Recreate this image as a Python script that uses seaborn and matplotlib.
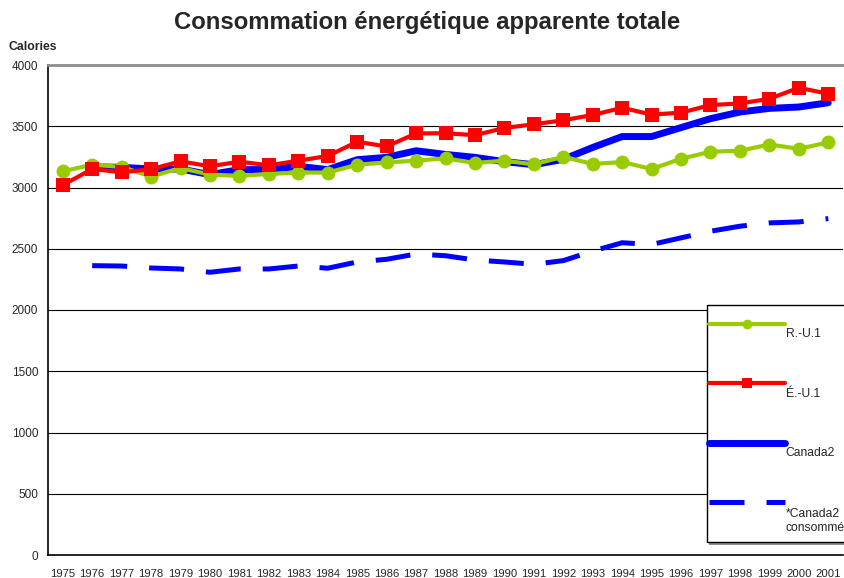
import numpy as np
import pandas as pd
import matplotlib
matplotlib.use("Agg")
import matplotlib.pyplot as plt
from matplotlib.patches import Rectangle
from matplotlib.legend_handler import HandlerLine2D
from matplotlib.ticker import FixedLocator, NullFormatter
import seaborn as sns

# ------------------- Data -------------------
years = list(range(1975, 2002))

ru = [3132, 3186, 3168, 3089, 3159, 3105, 3095, 3111, 3122, 3122, 3186, 3205, 3219, 3238,
      3200, 3219, 3189, 3251, 3192, 3208, 3151, 3235, 3292, 3300, 3351, 3316, 3368]
eu = [3019, 3151, 3124, 3149, 3214, 3173, 3211, 3181, 3219, 3257, 3373, 3335, 3441, 3443,
      3427, 3486, 3516, 3549, 3592, 3651, 3595, 3611, 3673, 3686, 3724, 3814, 3765]
# Canada series start in 1976
canada = [np.nan, 3168, 3165, 3151, 3151, 3105, 3146, 3146, 3173, 3146, 3227, 3246, 3300, 3270,
          3246, 3211, 3186, 3230, 3327, 3416, 3416, 3489, 3562, 3616, 3646, 3657, 3692]
canada_cons = [np.nan, 2362, 2359, 2343, 2335, 2308, 2335, 2335, 2359, 2341, 2392, 2414, 2457, 2443,
               2408, 2392, 2373, 2403, 2481, 2549, 2535, 2589, 2643, 2684, 2711, 2719, 2746]

labels = ["R.-U.1", "É.-U.1", "Canada2", "*Canada2\nconsommé"]

df = pd.DataFrame({"idx": np.arange(len(years)), "ru": ru, "eu": eu,
                   "canada": canada, "canada_cons": canada_cons})


class TopLineHandler(HandlerLine2D):
    # puts the legend line level with the first line of a two-line label
    def create_artists(self, legend, orig_handle, xdescent, ydescent, width, height,
                       fontsize, trans):
        arts = super().create_artists(legend, orig_handle, xdescent, ydescent, width,
                                      height, fontsize, trans)
        for a in arts:
            a.set_ydata(np.asarray(a.get_ydata()) + 7.0)
        return arts


# ------------------- Plot -------------------
sns.set_style("white")
plt.rcParams["font.family"] = ["Liberation Sans", "DejaVu Sans"]

fig = plt.figure(figsize=(8.45, 5.78), dpi=100)
ax = fig.add_axes([48 / 845, 23 / 578, 795 / 845, 490 / 578])

sns.lineplot(data=df, x="idx", y="canada_cons", ax=ax, color="#0000FF", linewidth=3.6,
             label=labels[3])
ax.lines[-1].set_dashes([7.0, 4.4])
ax.lines[-1].set_dash_capstyle("butt")
sns.lineplot(data=df, x="idx", y="canada", ax=ax, color="#0000FF", linewidth=5.0,
             label=labels[2])
ax.lines[-1].set_solid_capstyle("round")
sns.lineplot(data=df, x="idx", y="ru", ax=ax, color="#99CC00", linewidth=3.0,
             marker="o", markersize=10, markeredgewidth=0, label=labels[0])
sns.lineplot(data=df, x="idx", y="eu", ax=ax, color="#FF0000", linewidth=3.0,
             marker="s", markersize=10, markeredgewidth=0, label=labels[1])

ax.set_xlim(-0.5, len(years) - 0.5)
ax.set_ylim(0, 4000)
ax.set_yticks(np.arange(0, 4001, 500))
ax.set_yticklabels([str(v) for v in range(0, 4001, 500)], fontsize=8.5)
ax.set_xticks(np.arange(len(years)))
ax.set_xticklabels([str(y) for y in years], fontsize=8.1)
ax.xaxis.set_minor_locator(FixedLocator(np.arange(-0.5, len(years), 1)))
ax.xaxis.set_minor_formatter(NullFormatter())
ax.tick_params(axis="x", which="major", length=0, pad=10)
ax.tick_params(axis="x", which="minor", length=3, width=1, color="black", direction="out")
ax.tick_params(axis="y", length=4, width=1, color="black", direction="out", pad=3)
ax.set_xlabel("")
ax.set_ylabel("")

for v in range(500, 4000, 500):
    ax.axhline(v, color="black", linewidth=0.8, zorder=0)

ax.spines["left"].set_color("black")
ax.spines["left"].set_linewidth(1.2)
ax.spines["bottom"].set_color("black")
ax.spines["bottom"].set_linewidth(1.2)
ax.spines["top"].set_color("#8c8c8c")
ax.spines["top"].set_linewidth(2)
ax.spines["right"].set_visible(False)

# Legend box (drawn separately so it can run past the right edge like the reference)
ax.add_patch(Rectangle((709 / 845, (578 - 545) / 578), 160 / 845, 237 / 578,
                       transform=fig.transFigure, facecolor="#8c8c8c", edgecolor="none",
                       clip_on=False, zorder=4.8))
ax.add_patch(Rectangle((707 / 845, (578 - 542) / 578), 160 / 845, 237 / 578,
                       transform=fig.transFigure, facecolor="white", edgecolor="black",
                       linewidth=1, clip_on=False, zorder=4.9))

handles, lbls = ax.get_legend_handles_labels()
order = [lbls.index(l) for l in labels]
leg_handles = [handles[i] for i in order]
leg = ax.legend(leg_handles, [lbls[i] for i in order],
                loc="upper left", bbox_to_anchor=(709 / 845, (578 - 319) / 578),
                bbox_transform=fig.transFigure, borderaxespad=0,
                fontsize=8.7, handlelength=6.3, handletextpad=0.05,
                labelspacing=3.95, borderpad=0, frameon=False, markerscale=0.7,
                handler_map={leg_handles[3]: TopLineHandler()})
leg.set_zorder(5)
for t in leg.get_texts()[:3]:
    t.set_va("top")
leg.get_texts()[3].set_va("center")

fig.text(0.505, 1 - 22 / 578, "Consommation énergétique apparente totale",
         ha="center", va="center", fontsize=17.2, fontweight="bold")
fig.text(9 / 845, 1 - 47 / 578, "Calories", ha="left", va="center",
         fontsize=8.8, fontweight="bold")

fig.savefig("out.png", dpi=100)
